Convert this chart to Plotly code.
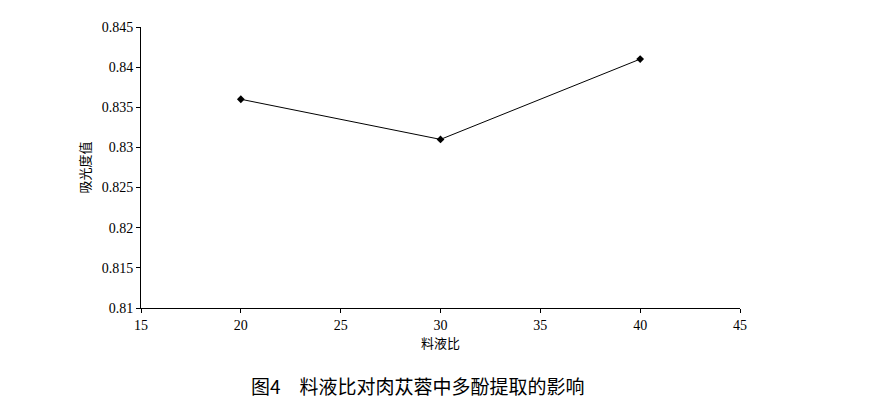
import plotly.graph_objects as go

x_vals = [20, 30, 40]
y_vals = [0.836, 0.831, 0.841]
y_ticks = [0.81, 0.815, 0.82, 0.825, 0.83, 0.835, 0.84, 0.845]
y_tick_text = ["0.81", "0.815", "0.82", "0.825", "0.83", "0.835", "0.84", "0.845"]
x_ticks = [15, 20, 25, 30, 35, 40, 45]

fig = go.Figure(go.Scatter(x=x_vals, y=y_vals, mode="lines+markers",
                           line=dict(color="black", width=1),
                           marker=dict(symbol="diamond", size=6, color="black")))
fig.update_layout(
    width=881, height=401, margin=dict(l=133, r=149, t=17, b=101),
    plot_bgcolor="white", paper_bgcolor="white", showlegend=False,
    font=dict(family="Liberation Serif", size=14, color="black"),
    xaxis=dict(range=[15, 45], tickvals=x_ticks, showline=True, linecolor="black",
               ticks="outside", ticklen=4, tickcolor="black", showgrid=False, zeroline=False,
               title=dict(text="料液比", font=dict(family="Noto Sans CJK SC", size=13), standoff=4)),
    yaxis=dict(range=[0.81, 0.845], tickvals=y_ticks, ticktext=y_tick_text, showline=True,
               linecolor="black", ticks="outside", ticklen=4, tickcolor="black",
               showgrid=False, zeroline=False,
               title=dict(text="吸光度值", font=dict(family="Noto Sans CJK SC", size=13), standoff=8)),
    annotations=[dict(text="图4　料液比对肉苁蓉中多酚提取的影响", xref="paper", yref="paper",
                      x=(410-133)/599, y=1-(378-17)/283, xanchor="center", yanchor="middle",
                      showarrow=False, font=dict(family="Noto Sans CJK SC", size=19))],
)
fig.write_html("out.html")
